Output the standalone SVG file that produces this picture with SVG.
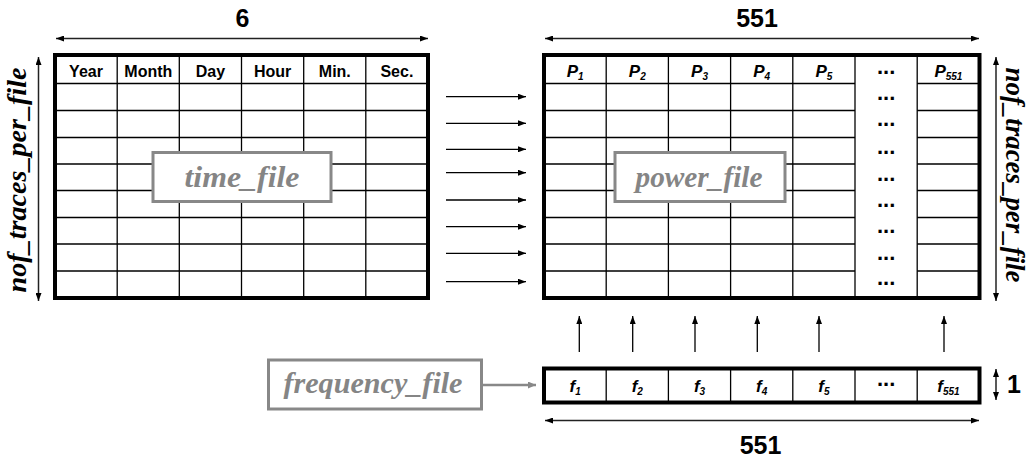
<svg xmlns="http://www.w3.org/2000/svg" width="1031" height="460" viewBox="0 0 1031 460">
<style>
.bg{fill:#fff}
.frame{fill:none;stroke:#000;stroke-width:4}
.grid{stroke:#000;stroke-width:1.3;fill:none}
.dim{stroke:#222;stroke-width:1.5;fill:none}
.conn{stroke:#000;stroke-width:1.3;fill:none}
.hdr{font-family:"Liberation Sans",Arial,sans-serif;font-weight:bold;font-size:16px;text-anchor:middle;fill:#000}
.ital{font-family:"Liberation Sans",Arial,sans-serif;font-weight:bold;font-style:italic;font-size:17px;text-anchor:middle;fill:#000}
.num{font-family:"Liberation Sans",Arial,sans-serif;font-weight:bold;font-size:25px;text-anchor:middle;fill:#000}
.dots{font-family:"Liberation Sans",Arial,sans-serif;font-weight:bold;font-size:22px;text-anchor:middle;fill:#000}
.side{font-family:'Liberation Serif','Times New Roman',serif;font-weight:700;font-style:italic;font-size:28px;text-anchor:middle;fill:#000}
.lbox{fill:#fff;stroke:#888;stroke-width:3}
.ltxt{font-family:'Liberation Serif','Times New Roman',serif;font-weight:700;font-style:italic;font-size:29px;text-anchor:middle;fill:#858585}
</style>
<defs>
<marker id="ah" viewBox="0 0 8 6" markerWidth="8" markerHeight="6" refX="8" refY="3" orient="auto-start-reverse" markerUnits="userSpaceOnUse"><path d="M0,0 L8,3 L0,6 z" fill="#000"/></marker>
<marker id="ahg" viewBox="0 0 8 7" markerWidth="8" markerHeight="7" refX="8" refY="3.5" orient="auto" markerUnits="userSpaceOnUse"><path d="M0,0 L8,3.5 L0,7 z" fill="#888"/></marker>
</defs>
<rect class="bg" x="0" y="0" width="1031" height="460"/>

<g id="time_table">
<rect x="55" y="55" width="373" height="243" fill="#fff"/>
<g class="grid">
<line x1="117.2" y1="55" x2="117.2" y2="298"/>
<line x1="179.3" y1="55" x2="179.3" y2="298"/>
<line x1="241.5" y1="55" x2="241.5" y2="298"/>
<line x1="303.7" y1="55" x2="303.7" y2="298"/>
<line x1="365.8" y1="55" x2="365.8" y2="298"/>
<line x1="55" y1="83.5" x2="428" y2="83.5"/>
<line x1="55" y1="110.5" x2="428" y2="110.5"/>
<line x1="55" y1="137.5" x2="428" y2="137.5"/>
<line x1="55" y1="164" x2="428" y2="164"/>
<line x1="55" y1="190.5" x2="428" y2="190.5"/>
<line x1="55" y1="217.5" x2="428" y2="217.5"/>
<line x1="55" y1="244" x2="428" y2="244"/>
<line x1="55" y1="271" x2="428" y2="271"/>
</g>
<rect class="frame" x="55" y="55" width="373" height="243"/>
<text class="hdr" x="86" y="77">Year</text>
<text class="hdr" x="148.3" y="77">Month</text>
<text class="hdr" x="210.4" y="77">Day</text>
<text class="hdr" x="272.6" y="77">Hour</text>
<text class="hdr" x="334.8" y="77">Min.</text>
<text class="hdr" x="396.9" y="77">Sec.</text>
</g>

<g id="time_file">
<rect class="lbox" x="153" y="152.5" width="178" height="49"/>
<text class="ltxt" x="242" y="187" textLength="115" lengthAdjust="spacingAndGlyphs">time_file</text>
</g>

<g id="power_table">
<rect x="544" y="55" width="435.5" height="243" fill="#fff"/>
<g class="grid">
<line x1="606.2" y1="55" x2="606.2" y2="298"/>
<line x1="668.4" y1="55" x2="668.4" y2="298"/>
<line x1="730.6" y1="55" x2="730.6" y2="298"/>
<line x1="792.8" y1="55" x2="792.8" y2="298"/>
<line x1="855" y1="55" x2="855" y2="298"/>
<line x1="917.2" y1="55" x2="917.2" y2="298"/>
<path d="M544,83.5H855M917.2,83.5H979.5 M544,110.5H855M917.2,110.5H979.5 M544,137.5H855M917.2,137.5H979.5 M544,164H855M917.2,164H979.5 M544,190.5H855M917.2,190.5H979.5 M544,217.5H855M917.2,217.5H979.5 M544,244H855M917.2,244H979.5 M544,271H855M917.2,271H979.5"/>
</g>
<rect class="frame" x="544" y="55" width="435.5" height="243"/>
<text class="ital" x="575.1" y="77">P<tspan font-size="10" dy="3">1</tspan></text>
<text class="ital" x="637.3" y="77">P<tspan font-size="10" dy="3">2</tspan></text>
<text class="ital" x="699.5" y="77">P<tspan font-size="10" dy="3">3</tspan></text>
<text class="ital" x="761.7" y="77">P<tspan font-size="10" dy="3">4</tspan></text>
<text class="ital" x="823.9" y="77">P<tspan font-size="10" dy="3">5</tspan></text>
<text class="ital" x="948.4" y="77">P<tspan font-size="10" dy="3">551</tspan></text>
<text class="dots" x="886.1" y="73.5">...</text>
<text class="dots" x="886.1" y="100">...</text>
<text class="dots" x="886.1" y="126">...</text>
<text class="dots" x="886.1" y="153.5">...</text>
<text class="dots" x="886.1" y="180.5">...</text>
<text class="dots" x="886.1" y="207">...</text>
<text class="dots" x="886.1" y="233">...</text>
<text class="dots" x="886.1" y="259.5">...</text>
<text class="dots" x="886.1" y="285">...</text>
</g>

<g id="power_file">
<rect class="lbox" x="615" y="152.5" width="170" height="49"/>
<text class="ltxt" x="699" y="187" textLength="127" lengthAdjust="spacingAndGlyphs">power_file</text>
</g>

<g id="freq_row">
<rect x="544" y="368.5" width="435.5" height="34" fill="#fff"/>
<g class="grid">
<line x1="606.2" y1="368.5" x2="606.2" y2="402.5"/>
<line x1="668.4" y1="368.5" x2="668.4" y2="402.5"/>
<line x1="730.6" y1="368.5" x2="730.6" y2="402.5"/>
<line x1="792.8" y1="368.5" x2="792.8" y2="402.5"/>
<line x1="855" y1="368.5" x2="855" y2="402.5"/>
<line x1="917.2" y1="368.5" x2="917.2" y2="402.5"/>
</g>
<rect class="frame" x="544" y="368.5" width="435.5" height="34"/>
<text class="ital" x="575.1" y="392">f<tspan font-size="10" dy="3">1</tspan></text>
<text class="ital" x="637.3" y="392">f<tspan font-size="10" dy="3">2</tspan></text>
<text class="ital" x="699.5" y="392">f<tspan font-size="10" dy="3">3</tspan></text>
<text class="ital" x="761.7" y="392">f<tspan font-size="10" dy="3">4</tspan></text>
<text class="ital" x="823.9" y="392">f<tspan font-size="10" dy="3">5</tspan></text>
<text class="dots" x="886.1" y="386">...</text>
<text class="ital" x="948.4" y="392">f<tspan font-size="10" dy="3">551</tspan></text>
</g>

<g id="frequency_file">
<rect class="lbox" x="268.5" y="360" width="213" height="49"/>
<text class="ltxt" x="373" y="393" textLength="179" lengthAdjust="spacingAndGlyphs">frequency_file</text>
</g>

<g id="dimensions">
<line class="dim" x1="56" y1="38.5" x2="428" y2="38.5" marker-start="url(#ah)" marker-end="url(#ah)"/>
<text class="num" x="242.5" y="27">6</text>
<line class="dim" x1="545" y1="38.5" x2="979" y2="38.5" marker-start="url(#ah)" marker-end="url(#ah)"/>
<text class="num" x="757" y="27">551</text>
<line class="dim" x1="38.5" y1="57" x2="38.5" y2="301" marker-start="url(#ah)" marker-end="url(#ah)"/>
<text class="side" transform="translate(26,180) rotate(-90)" textLength="225" lengthAdjust="spacingAndGlyphs">nof_traces_per_file</text>
<line class="dim" x1="996" y1="57" x2="996" y2="301" marker-start="url(#ah)" marker-end="url(#ah)"/>
<text class="side" transform="translate(1006,175) rotate(90)" textLength="215" lengthAdjust="spacingAndGlyphs">nof_traces_per_file</text>
<line class="dim" x1="545" y1="420.5" x2="979" y2="420.5" marker-start="url(#ah)" marker-end="url(#ah)"/>
<text class="num" x="760.5" y="454">551</text>
<line class="dim" x1="996" y1="369" x2="996" y2="400" marker-start="url(#ah)" marker-end="url(#ah)"/>
<text class="num" x="1014" y="393">1</text>
</g>

<g id="connectors">
<line class="conn" x1="446" y1="96.7" x2="526" y2="96.7" marker-end="url(#ah)"/>
<line class="conn" x1="446" y1="123.3" x2="526" y2="123.3" marker-end="url(#ah)"/>
<line class="conn" x1="446" y1="149.3" x2="526" y2="149.3" marker-end="url(#ah)"/>
<line class="conn" x1="446" y1="172.7" x2="526" y2="172.7" marker-end="url(#ah)"/>
<line class="conn" x1="446" y1="200" x2="526" y2="200" marker-end="url(#ah)"/>
<line class="conn" x1="446" y1="226.7" x2="526" y2="226.7" marker-end="url(#ah)"/>
<line class="conn" x1="446" y1="253.3" x2="526" y2="253.3" marker-end="url(#ah)"/>
<line class="conn" x1="446" y1="281.7" x2="526" y2="281.7" marker-end="url(#ah)"/>
<line class="conn" x1="579.3" y1="352" x2="579.3" y2="316" marker-end="url(#ah)"/>
<line class="conn" x1="632.7" y1="352" x2="632.7" y2="316" marker-end="url(#ah)"/>
<line class="conn" x1="695" y1="352" x2="695" y2="316" marker-end="url(#ah)"/>
<line class="conn" x1="757.3" y1="352" x2="757.3" y2="316" marker-end="url(#ah)"/>
<line class="conn" x1="819" y1="352" x2="819" y2="316" marker-end="url(#ah)"/>
<line class="conn" x1="944" y1="352" x2="944" y2="316" marker-end="url(#ah)"/>
<line x1="483" y1="385" x2="536" y2="385" stroke="#888" stroke-width="2.5" marker-end="url(#ahg)"/>
</g>
</svg>
